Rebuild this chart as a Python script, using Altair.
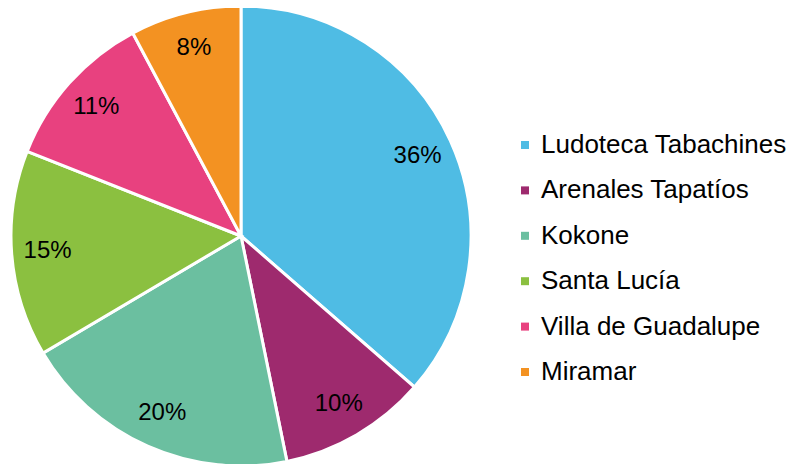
import altair as alt
import pandas as pd

categories = ["Ludoteca Tabachines", "Arenales Tapatíos", "Kokone", "Santa Lucía", "Villa de Guadalupe", "Miramar"]
values = [36.4, 10.4, 19.7, 14.5, 11.2, 7.8]
labels = ["36%", "10%", "20%", "15%", "11%", "8%"]
colors = ["#4FBCE4", "#9E2A6E", "#6BBFA0", "#8BC040", "#E8417F", "#F39222"]

df = pd.DataFrame({
    "cat": categories,
    "val": values,
    "order": list(range(len(categories))),
    "label": labels,
})

base = alt.Chart(df).encode(
    theta=alt.Theta("val:Q", stack=True),
    order=alt.Order("order:Q"),
    x=alt.value(233),
    y=alt.value(228),
)

arcs = base.mark_arc(outerRadius=230, stroke="white", strokeWidth=3).encode(
    color=alt.Color(
        "cat:N",
        scale=alt.Scale(domain=categories, range=colors),
        sort=categories,
        legend=alt.Legend(
            title=None,
            orient="none",
            legendX=504,
            legendY=124,
            symbolType="square",
            symbolSize=64,
            symbolStrokeWidth=0,
            labelFontSize=26,
            labelFont="Liberation Sans",
            labelColor="#000000",
            labelOffset=3,
            rowPadding=19.4,
            labelLimit=400,
        ),
    )
)

texts = base.mark_text(radius=194, fontSize=24, font="Liberation Sans", color="#000000").encode(
    text="label:N"
)

chart = (arcs + texts).properties(
    width=782,
    height=456,
    autosize=alt.AutoSizeParams(type="none"),
    padding=0,
).configure_view(stroke=None)

chart.save("out.html", embed_options={"renderer": "svg", "actions": False})
